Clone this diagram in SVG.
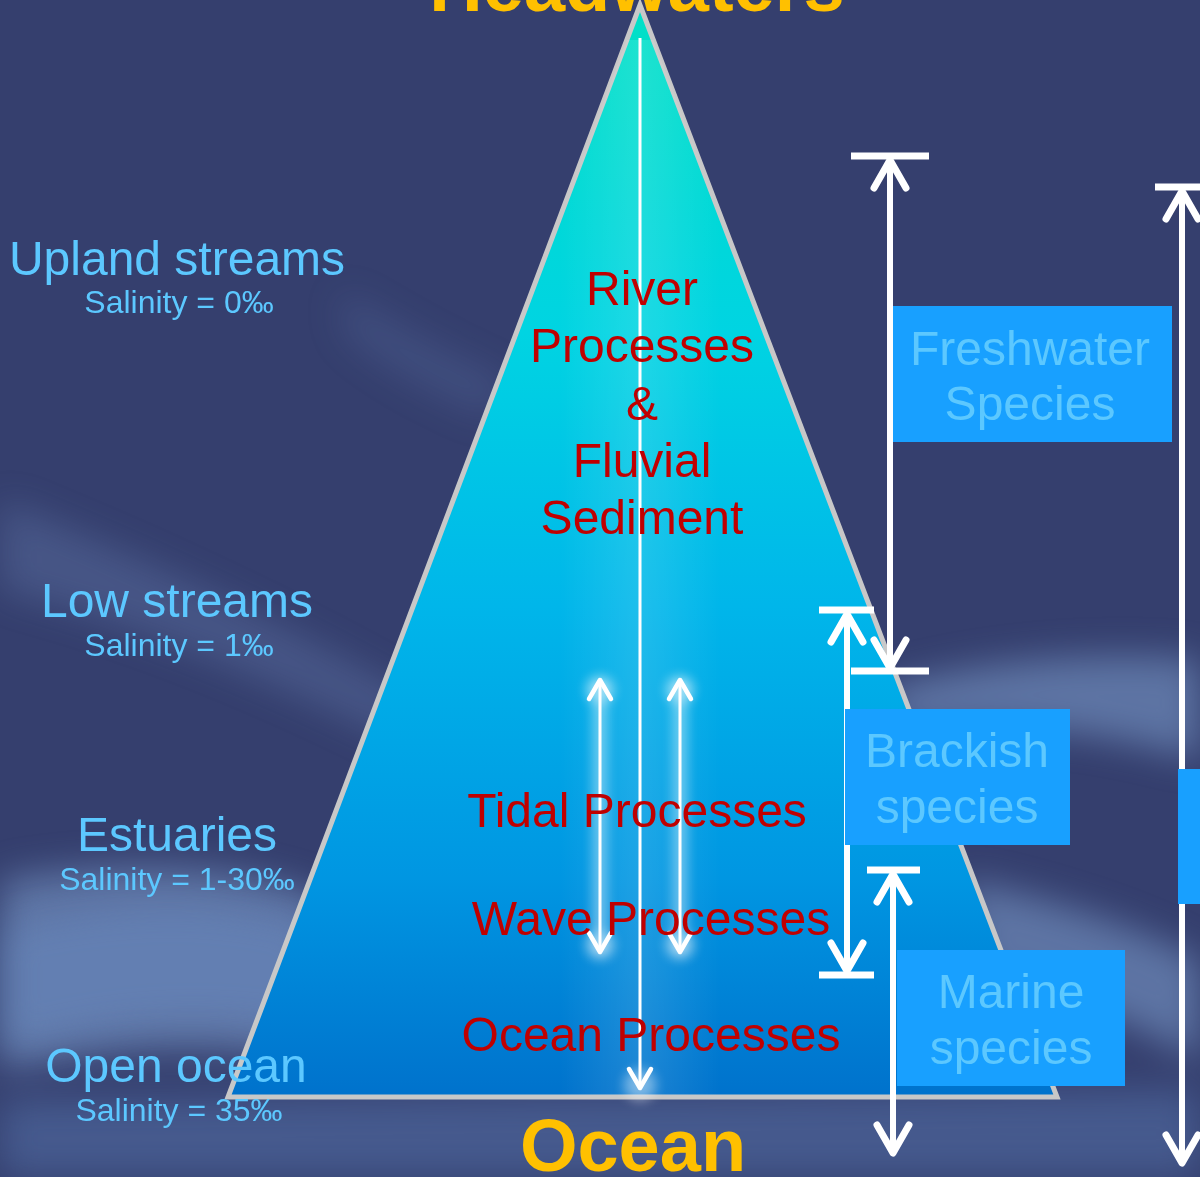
<svg xmlns="http://www.w3.org/2000/svg" width="1200" height="1177" viewBox="0 0 1200 1177">
  <defs>
    <linearGradient id="triFill" x1="0" y1="5" x2="0" y2="1097" gradientUnits="userSpaceOnUse">
      <stop offset="0" stop-color="#00E0C6"/>
      <stop offset="0.3" stop-color="#00D4E2"/>
      <stop offset="0.55" stop-color="#00B6EA"/>
      <stop offset="0.8" stop-color="#0096E2"/>
      <stop offset="1" stop-color="#0072CC"/>
    </linearGradient>
    <linearGradient id="stripe" x1="560" y1="0" x2="720" y2="0" gradientUnits="userSpaceOnUse">
      <stop offset="0" stop-color="#FFFFFF" stop-opacity="0"/>
      <stop offset="0.5" stop-color="#FFFFFF" stop-opacity="0.12"/>
      <stop offset="1" stop-color="#FFFFFF" stop-opacity="0"/>
    </linearGradient>
    <clipPath id="triClip">
      <polygon points="640,5 228,1097 1057,1097"/>
    </clipPath>
    <filter id="soft" x="-20%" y="-20%" width="140%" height="140%">
      <feGaussianBlur stdDeviation="18"/>
    </filter>
    <filter id="glow" x="-100%" y="-20%" width="300%" height="140%">
      <feGaussianBlur stdDeviation="6"/>
    </filter>
    <marker id="bigHead" markerUnits="userSpaceOnUse" viewBox="-40 -25 50 50" markerWidth="50" markerHeight="50" refX="0" refY="0" orient="auto-start-reverse" overflow="visible">
      <path d="M -28 -16 L 0 0 L -28 16" fill="none" stroke="#FFFFFF" stroke-width="7" stroke-linecap="round" stroke-linejoin="round"/>
    </marker>
    <marker id="smallHead" markerUnits="userSpaceOnUse" viewBox="-30 -20 40 40" markerWidth="40" markerHeight="40" refX="0" refY="0" orient="auto-start-reverse" overflow="visible">
      <path d="M -19 -11 L 0 0 L -19 11" fill="none" stroke="#FFFFFF" stroke-width="4.5" stroke-linecap="round" stroke-linejoin="round"/>
    </marker>
    <style>
      .lbl { font-family: "Liberation Sans", Arial, sans-serif; fill: #5CC8FF; text-anchor: middle; }
      .big { font-size: 48px; }
      .sal { font-size: 32px; }
      .proc { font-family: "Liberation Sans", Arial, sans-serif; fill: #C00000; font-size: 48px; text-anchor: middle; }
      .title { font-family: "Liberation Sans", Arial, sans-serif; font-weight: bold; fill: #FFC000; font-size: 74px; text-anchor: middle; }
      .box { fill: #18A0FF; }
      .spec { font-family: "Liberation Sans", Arial, sans-serif; fill: #5CC8FF; font-size: 48px; text-anchor: middle; }
      .bar { stroke: #FFFFFF; stroke-width: 7; }
      .big-arrow { stroke: #FFFFFF; stroke-width: 6; fill: none; }
      .small-arrow { stroke: #FFFFFF; stroke-width: 3; fill: none; }
    </style>
  </defs>

  <!-- background -->
  <rect x="0" y="0" width="1200" height="1177" fill="#353F6E"/>
  <g opacity="0.5" filter="url(#soft)">
    <path d="M 0 500 C 150 560 300 630 420 700 L 390 740 C 250 670 120 620 0 590 Z" fill="#7C9CCF" opacity="0.5"/>
    <path d="M 0 880 C 120 860 230 860 330 900 L 300 1060 C 200 1040 100 1050 0 1070 Z" fill="#86AADA"/>
    <path d="M 340 290 C 390 320 440 350 510 380 L 495 420 C 430 395 380 365 345 335 Z" fill="#6F8CC0" opacity="0.4"/>
    <path d="M 880 690 C 980 660 1100 650 1200 660 L 1200 760 C 1100 730 990 720 900 730 Z" fill="#86AADA"/>
    <path d="M 960 880 C 1060 900 1140 930 1200 960 L 1200 1060 C 1130 1020 1050 990 980 980 Z" fill="#86AADA"/>
    <path d="M 0 1100 L 1200 1090 L 1200 1177 L 0 1177 Z" fill="#5676AE"/>
  </g>
  <path d="M 0 930 C 120 900 230 900 320 930 L 300 1030 C 200 1010 100 1020 0 1050 Z" fill="#6C8EC4" opacity="0.45" filter="url(#soft)"/>

  <!-- triangle -->
  <g id="pyramid">
    <polygon points="640,5 228,1097 1057,1097" fill="url(#triFill)" stroke="#C8C8C8" stroke-width="5" stroke-linejoin="miter"/>
    <rect x="560" y="40" width="160" height="1055" fill="url(#stripe)" clip-path="url(#triClip)"/>
  </g>

  <!-- titles -->
  <g id="headwaters"><text class="title" x="637" y="11">Headwaters</text></g>
  <g id="ocean"><text class="title" x="633" y="1171">Ocean</text></g>

  <!-- left labels -->
  <g id="upland">
    <text class="lbl big" x="177" y="275">Upland streams</text>
    <text class="lbl sal" x="179" y="313">Salinity = 0‰</text>
  </g>
  <g id="low">
    <text class="lbl big" x="177" y="617">Low streams</text>
    <text class="lbl sal" x="179" y="656">Salinity = 1‰</text>
  </g>
  <g id="estuaries">
    <text class="lbl big" x="177" y="851">Estuaries</text>
    <text class="lbl sal" x="177" y="890">Salinity = 1-30‰</text>
  </g>
  <g id="openocean">
    <text class="lbl big" x="176" y="1082">Open ocean</text>
    <text class="lbl sal" x="179" y="1121">Salinity = 35‰</text>
  </g>

  <!-- connectors -->
  <g id="connectors">
    <g opacity="0.7" filter="url(#glow)">
      <line x1="600" y1="680" x2="600" y2="955" stroke="#FFFFFF" stroke-width="14" opacity="0.6"/>
      <line x1="680" y1="680" x2="680" y2="955" stroke="#FFFFFF" stroke-width="14" opacity="0.6"/>
      <circle cx="600" cy="690" r="14" fill="#FFFFFF" opacity="0.7"/>
      <circle cx="680" cy="690" r="14" fill="#FFFFFF" opacity="0.7"/>
      <circle cx="600" cy="945" r="14" fill="#FFFFFF" opacity="0.7"/>
      <circle cx="680" cy="945" r="14" fill="#FFFFFF" opacity="0.7"/>
      <circle cx="640" cy="1085" r="16" fill="#FFFFFF" opacity="0.6"/>
    </g>
    <line class="small-arrow" x1="640" y1="38" x2="640" y2="1088" marker-end="url(#smallHead)"/>
    <line class="small-arrow" x1="600" y1="680" x2="600" y2="952" marker-start="url(#smallHead)" marker-end="url(#smallHead)"/>
    <line class="small-arrow" x1="680" y1="680" x2="680" y2="952" marker-start="url(#smallHead)" marker-end="url(#smallHead)"/>

    <line class="bar" x1="851" y1="156" x2="929" y2="156"/>
    <line class="bar" x1="851" y1="671" x2="929" y2="671"/>
    <line class="big-arrow" x1="890" y1="160" x2="890" y2="668" marker-start="url(#bigHead)" marker-end="url(#bigHead)"/>

    <line class="bar" x1="819" y1="610" x2="874" y2="610"/>
    <line class="bar" x1="819" y1="975" x2="874" y2="975"/>
    <line class="big-arrow" x1="847" y1="614" x2="847" y2="971" marker-start="url(#bigHead)" marker-end="url(#bigHead)"/>

    <line class="bar" x1="867" y1="870" x2="920" y2="870"/>
    <line class="big-arrow" x1="893" y1="874" x2="893" y2="1153" marker-start="url(#bigHead)" marker-end="url(#bigHead)"/>

    <line class="bar" x1="1155" y1="187" x2="1200" y2="187"/>
    <line class="big-arrow" x1="1182" y1="191" x2="1182" y2="1163" marker-start="url(#bigHead)" marker-end="url(#bigHead)"/>
  </g>

  <!-- process texts -->
  <g id="river">
    <text class="proc" x="642" y="305">River</text>
    <text class="proc" x="642" y="362">Processes</text>
    <text class="proc" x="642" y="420">&amp;</text>
    <text class="proc" x="642" y="477">Fluvial</text>
    <text class="proc" x="642" y="534">Sediment</text>
  </g>
  <g id="tidal"><text class="proc" x="637" y="827">Tidal Processes</text></g>
  <g id="wave"><text class="proc" x="651" y="935">Wave Processes</text></g>
  <g id="oceanproc"><text class="proc" x="651" y="1051">Ocean Processes</text></g>

  <!-- species boxes -->
  <g id="freshwater">
    <rect class="box" x="893" y="306" width="279" height="136"/>
    <text class="spec" x="1030" y="365">Freshwater</text>
    <text class="spec" x="1030" y="420">Species</text>
  </g>
  <g id="brackish">
    <rect class="box" x="845" y="709" width="225" height="136"/>
    <text class="spec" x="957" y="767">Brackish</text>
    <text class="spec" x="957" y="823">species</text>
  </g>
  <g id="marine">
    <rect class="box" x="897" y="950" width="228" height="136"/>
    <text class="spec" x="1011" y="1008">Marine</text>
    <text class="spec" x="1011" y="1064">species</text>
  </g>
  <g id="edgebox">
    <rect class="box" x="1178" y="769" width="22" height="135"/>
  </g>
</svg>
